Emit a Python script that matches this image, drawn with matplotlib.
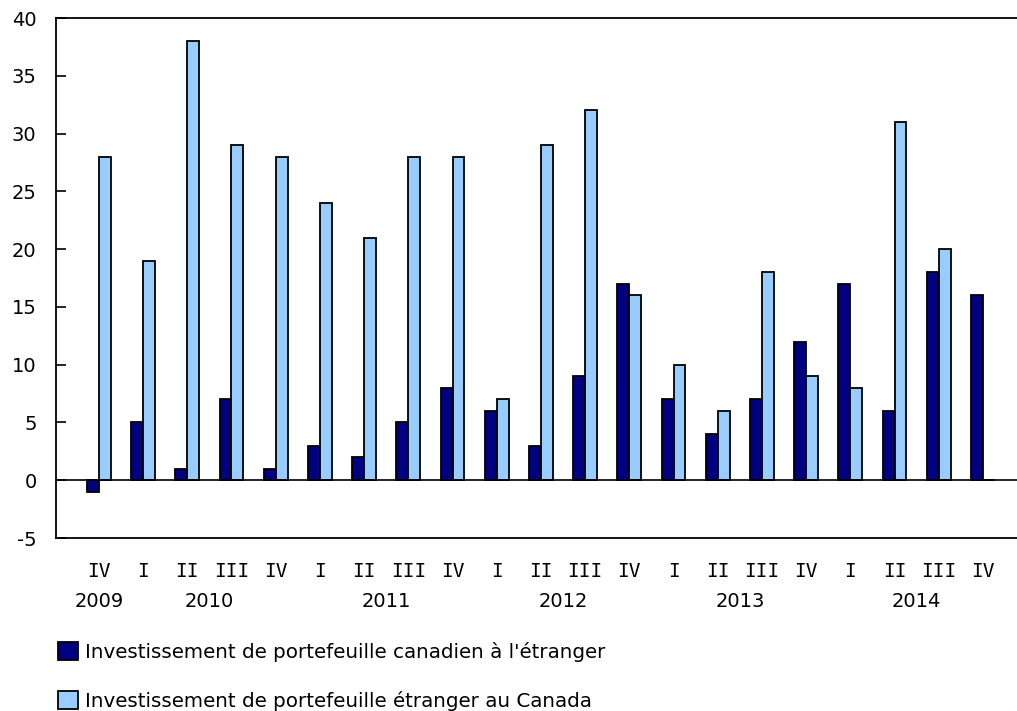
import numpy as np
import matplotlib.pyplot as plt
from matplotlib.patches import Patch

quarters = ['IV', 'I', 'II', 'III', 'IV', 'I', 'II', 'III', 'IV', 'I', 'II',
            'III', 'IV', 'I', 'II', 'III', 'IV', 'I', 'II', 'III', 'IV']
years = {0: '2009', 2: '2010', 6: '2011', 10: '2012', 14: '2013', 18: '2014'}

canadien = [-1, 5, 1, 7, 1, 3, 2, 5, 8, 6, 3, 9, 17, 7, 4, 7, 12, 17, 6, 18, 16]
etranger = [28, 19, 38, 29, 28, 24, 21, 28, 28, 7, 29, 32, 16, 10, 6, 18, 9, 8, 31, 20, 0]

dark = '#000080'
light = '#99ccff'

plt.rcParams['font.family'] = 'DejaVu Sans'
plt.rcParams['axes.unicode_minus'] = False
fig = plt.figure(figsize=(10.17, 7.11), dpi=100)
ax = fig.add_axes([56 / 1017, 1 - 538 / 711, 1 - 56 / 1017 + 0.01, (538 - 18) / 711])

x = np.arange(len(quarters))
w = 0.27
ax.bar(x - w / 2, canadien, w, color=dark, edgecolor='black', linewidth=1.3)
ax.bar(x + w / 2, etranger, w, color=light, edgecolor='black', linewidth=1.3)

ax.axhline(0, color='black', linewidth=1.2)
ax.set_ylim(-5, 40)
ax.set_yticks(range(-5, 41, 5))
ax.set_xlim(-0.97, 20.77 + 0.01 * 1017 / 44.2)
ax.tick_params(axis='y', direction='in', length=7, width=1.2, labelsize=14, pad=14)
ax.tick_params(axis='x', length=0)
ax.set_xticks([])
for s in ['left', 'top', 'bottom']:
    ax.spines[s].set_linewidth(1.3)
ax.spines['right'].set_visible(False)

for i, q in enumerate(quarters):
    ax.text(i, -7.9, q, ha='center', va='center', fontsize=14, family='DejaVu Sans Mono')
for i, yr in years.items():
    ax.text(i + 0.5 if i > 0 else i, -10.5, yr, ha='center', va='center', fontsize=14)

handles = [Patch(facecolor=dark, edgecolor='black', linewidth=1.3),
           Patch(facecolor=light, edgecolor='black', linewidth=1.3)]
labels = ["Investissement de portefeuille canadien à l'étranger",
          'Investissement de portefeuille étranger au Canada']
fig.legend(handles, labels, loc='upper left', bbox_to_anchor=(40 / 1017, 1 - 624 / 711),
           frameon=False, fontsize=14.3, handlelength=1.0, handleheight=1.0,
           handletextpad=0.35, labelspacing=1.45)

fig.savefig('out.png', dpi=100)
